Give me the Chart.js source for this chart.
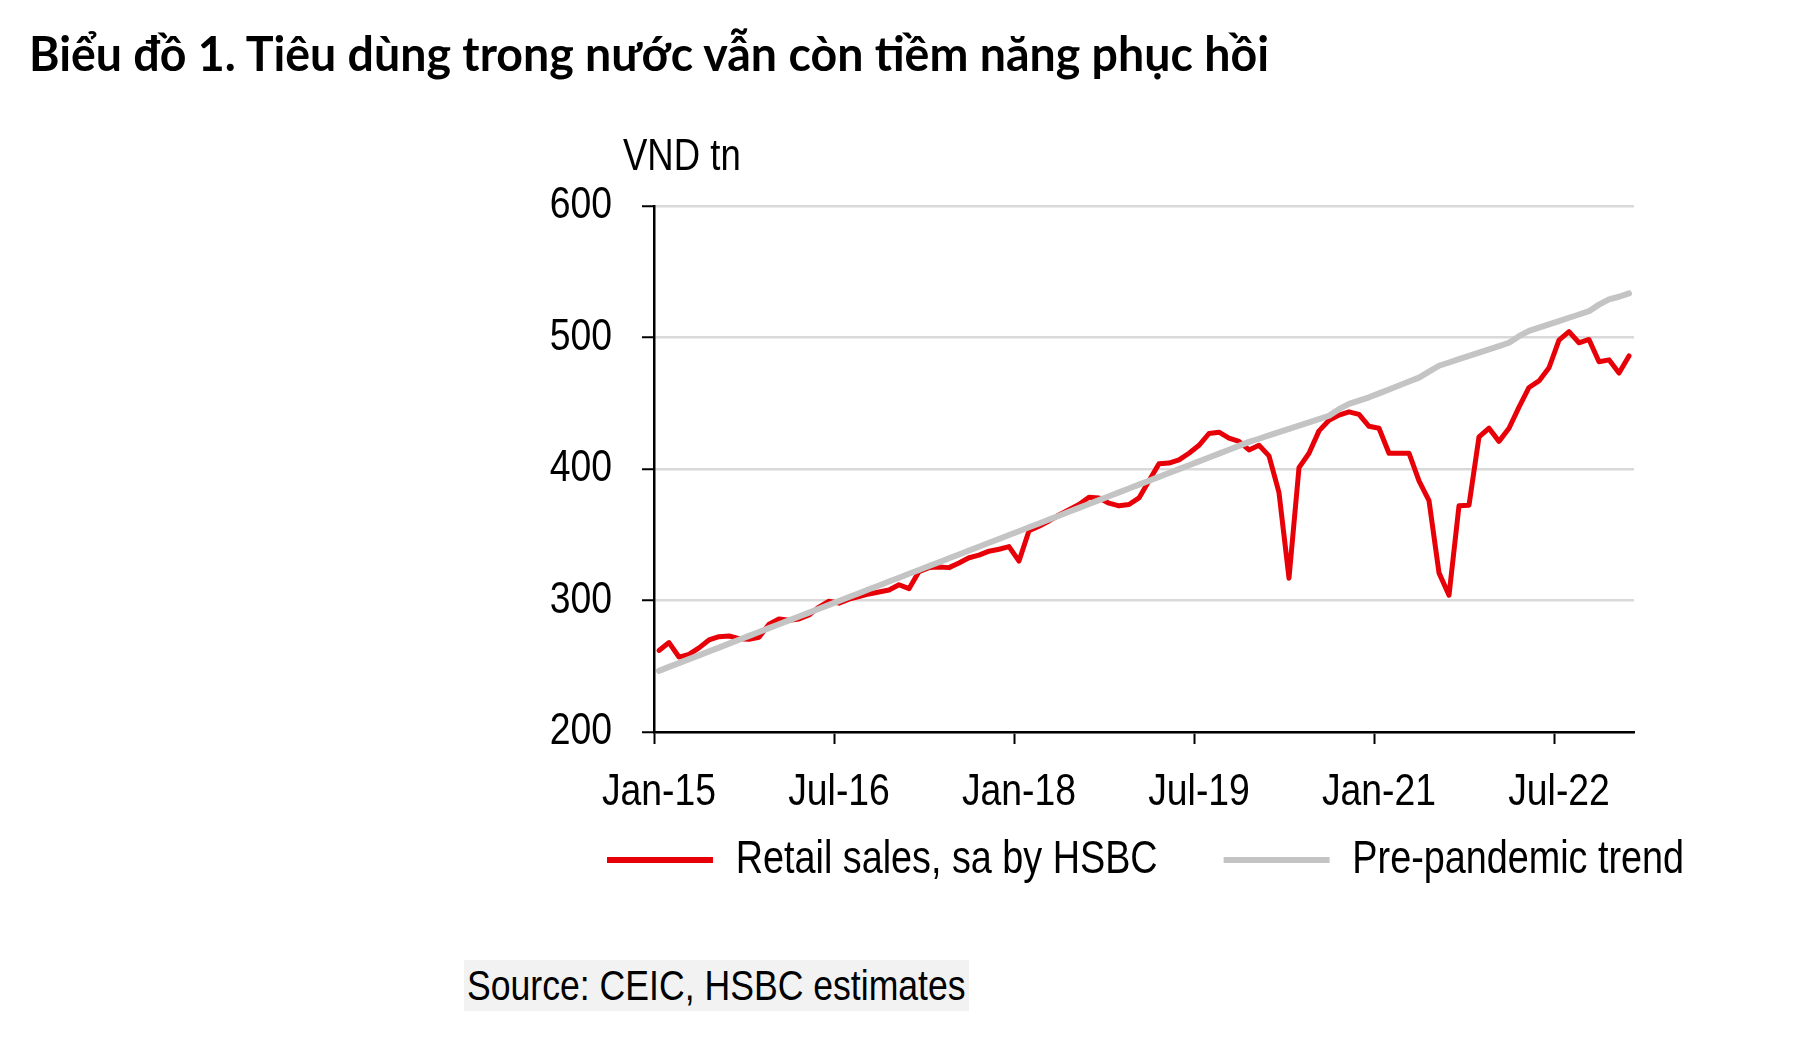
<!DOCTYPE html>
<html>
<head>
<meta charset="utf-8">
<script src="https://cdn.jsdelivr.net/npm/chart.js@4.4.1/dist/chart.umd.min.js"></script>
<style>
  html, body { margin:0; padding:0; background:#fff; width:1798px; height:1056px; overflow:hidden; }
  #wrap { position:relative; width:1798px; height:1056px; }
  #c { position:absolute; left:0; top:0; }
  .txt { position:absolute; white-space:nowrap; color:#000; }
  #title { left:29px; top:30px; font-family:Lato, "Open Sans", sans-serif; font-weight:bold; font-size:47px; line-height:47px; transform-origin:0 0; }
  #unit { left:623px; top:133px; font-family:"Liberation Sans",Arial,sans-serif; font-size:44px; line-height:44px; transform-origin:0 0; transform:scaleX(0.83); }
  #sourcebox { position:absolute; left:464px; top:960px; width:505px; height:51px; background:#f2f2f2; }
  #source { left:467px; top:960px; height:51px; font-family:"Liberation Sans",Arial,sans-serif; font-size:43px; line-height:51px; transform-origin:0 0; transform:scaleX(0.828); }
</style>
</head>
<body>
<div id="wrap">
  <canvas id="c" width="1798" height="1056"></canvas>
  <div id="title" class="txt">Biểu đồ 1. Tiêu dùng trong nước vẫn còn tiềm năng phục hồi</div>
  <div id="unit" class="txt">VND tn</div>
  <div id="sourcebox"></div>
  <div id="source" class="txt">Source: CEIC, HSBC estimates</div>
</div>
<script>
// ---- data ----
const monthNames = ['Jan','Feb','Mar','Apr','May','Jun','Jul','Aug','Sep','Oct','Nov','Dec'];
const categories = [];
for (let y = 15; y <= 23; y++) {
  for (let m = 0; m < 12; m++) {
    if (y === 23 && m > 1) break;
    categories.push(monthNames[m] + '-' + y);
  }
}
const retailSales = [
  262, 268, 257, 259, 264, 270, 272.5, 273, 271, 270.5, 272, 282,
  286, 285, 286, 289, 295, 299.5, 298, 301, 303, 305, 306.5, 308,
  312, 309, 322, 325, 325.5, 325, 328.5, 332.5, 334.5, 337.5, 339, 341,
  330, 353, 356.5, 360.5, 365, 369, 373, 378.5, 378, 374, 372, 373,
  378, 391, 404, 404.5, 407, 412, 418, 427, 428, 423.5, 421, 414.5,
  418, 410, 382, 317, 401, 412, 429, 437, 441, 443.5, 441.5, 432.5,
  431, 412, 412, 412, 391, 376, 321, 304, 372, 372.5, 424.5, 431,
  421, 431, 447, 462, 467, 477, 498, 504.5, 496, 498.5, 481.5, 483,
  473, 486
];
const prePandemicTrend = [
  246.5, 249.5, 252.4, 255.4, 258.3, 261.3, 264.2, 267.2, 270.1, 273.1, 276.0, 279.0,
  281.9, 284.9, 287.8, 290.8, 293.7, 296.7, 299.6, 302.6, 305.5, 308.5, 311.4, 314.4,
  317.3, 320.3, 323.2, 326.2, 329.1, 332.1, 335.0, 338.0, 340.9, 343.9, 346.8, 349.8,
  352.7, 355.7, 358.6, 361.6, 364.5, 367.5, 370.4, 373.4, 376.3, 379.3, 382.2, 385.2,
  388.1, 391.1, 394.0, 397.0, 399.9, 402.9, 405.8, 408.8, 411.7, 414.7, 417.6, 420.6,
  423.0, 425.5, 428.0, 430.5, 433.0, 435.5, 438.0, 440.5, 445.5, 449.5, 452.0, 454.5,
  457.5, 460.5, 463.5, 466.5, 469.5, 474.0, 478.5, 481.0, 483.5, 486.0, 488.5, 491.0,
  493.5, 496.0, 501.0, 505.0, 507.5, 510.0, 512.5, 515.0, 517.5, 520.0, 525.0, 529.0,
  531.0, 533.5
];
const yTicks = [200, 300, 400, 500, 600];
const seriesNames = ['Retail sales, sa by HSBC', 'Pre-pandemic trend'];
const labelEvery = 18;

// ---- layout constants ----
const FONT = '"Liberation Sans",Arial,sans-serif';
const SX = 0.83; // horizontal condensing of chart text (Arial Narrow look)
const PLOT_LEFT = 654, PLOT_RIGHT = 1634, PLOT_TOP = 206, PLOT_BOTTOM = 732;
const PAD_B = 120;
const LEG_X = 606, LEG_PAD = 66, LEG_FONT = 45.5, LEG_TEXT_Y = 860, LEG_BOX_W = 106;

const legendPos = {
  id: 'legendPos',
  afterLayout(chart) {
    const lg = chart.legend;
    if (!lg || !lg.lineWidths) return;
    const lw = lg.lineWidths[0];
    lg.left = LEG_X - LEG_PAD;
    lg.right = LEG_X + lw + 2;
    const h = lg.height;
    lg.top = LEG_TEXT_Y - LEG_PAD - LEG_FONT / 2;
    lg.bottom = lg.top + h;
  }
};

const canvas = document.getElementById('c');
const ctx = canvas.getContext('2d');
// condensed text rendering on this canvas
const origFill = ctx.fillText.bind(ctx);
const origMeasure = ctx.measureText.bind(ctx);
ctx.fillText = function (text, x, y, maxWidth) {
  ctx.save();
  ctx.translate(x, y);
  ctx.scale(SX, 1);
  if (maxWidth !== undefined && maxWidth !== null) origFill(text, 0, 0, maxWidth / SX);
  else origFill(text, 0, 0);
  ctx.restore();
};
ctx.measureText = function (text) {
  const m = origMeasure(text);
  return {
    width: m.width * SX,
    actualBoundingBoxAscent: m.actualBoundingBoxAscent,
    actualBoundingBoxDescent: m.actualBoundingBoxDescent,
    actualBoundingBoxLeft: m.actualBoundingBoxLeft * SX,
    actualBoundingBoxRight: m.actualBoundingBoxRight * SX,
    fontBoundingBoxAscent: m.fontBoundingBoxAscent,
    fontBoundingBoxDescent: m.fontBoundingBoxDescent
  };
};

new Chart(ctx, {
  type: 'line',
  data: {
    labels: categories,
    datasets: [
      { label: seriesNames[0], data: retailSales, borderColor: '#e80008', backgroundColor: '#e80008',
        borderWidth: 5, pointRadius: 0, tension: 0, borderJoinStyle: 'round', borderCapStyle: 'round', order: 1 },
      { label: seriesNames[1], data: prePandemicTrend, borderColor: '#c4c4c4', backgroundColor: '#c4c4c4',
        borderWidth: 6, pointRadius: 0, tension: 0, borderJoinStyle: 'round', borderCapStyle: 'round', order: 0 }
    ]
  },
  plugins: [legendPos],
  options: {
    responsive: false,
    animation: false,
    devicePixelRatio: 1,
    layout: { padding: { top: PLOT_TOP, left: 0, right: 1798 - PLOT_RIGHT, bottom: PAD_B } },
    plugins: {
      tooltip: { enabled: false },
      title: { display: false },
      legend: {
        display: true,
        position: 'bottom',
        align: 'center',
        labels: {
          font: { family: FONT, size: LEG_FONT },
          color: '#000',
          boxWidth: LEG_BOX_W,
          boxHeight: 6,
          padding: LEG_PAD,
          sort: (a, b) => a.datasetIndex - b.datasetIndex,
          generateLabels: (chart) => {
            const items = Chart.defaults.plugins.legend.labels.generateLabels(chart);
            items.forEach(it => { it.lineWidth = 0; it.fillStyle = it.strokeStyle; });
            return items;
          }
        }
      }
    },
    scales: {
      x: {
        type: 'category',
        offset: true,
        afterFit: (s) => {
          const lh = s.chart.legend ? s.chart.legend.height : 0;
          s.height = s.chart.height - PAD_B - lh - PLOT_BOTTOM;
        },
        grid: {
          offset: true,
          drawOnChartArea: false,
          drawTicks: true,
          tickLength: 12,
          tickWidth: 2,
          tickColor: (c) => (c.index % labelEvery === 0 ? '#000' : 'rgba(0,0,0,0)')
        },
        border: { display: true, color: '#000', width: 2.5 },
        ticks: {
          autoSkip: false,
          maxRotation: 0,
          minRotation: 0,
          padding: 22,
          color: '#000',
          font: { family: FONT, size: 45 },
          callback: (v, i) => (i % labelEvery === 0 ? categories[i] : '')
        }
      },
      y: {
        min: yTicks[0],
        max: yTicks[yTicks.length - 1],
        afterFit: (s) => { s.width = PLOT_LEFT; },
        afterBuildTicks: (s) => { s.ticks = yTicks.map(v => ({ value: v })); },
        grid: {
          color: '#d9d9d9',
          lineWidth: 2.5,
          drawTicks: true,
          tickLength: 12,
          tickWidth: 2,
          tickColor: '#000'
        },
        border: { display: true, color: '#000', width: 2.5 },
        ticks: {
          padding: 30,
          color: '#000',
          font: { family: FONT, size: 45 }
        }
      }
    }
  }
});

// fit title width to the reference (Calibri-like bold)
const t = document.getElementById('title');
const w = t.getBoundingClientRect().width;
t.style.transform = 'scaleX(' + (1240 / w) + ')';
</script>
</body>
</html>
